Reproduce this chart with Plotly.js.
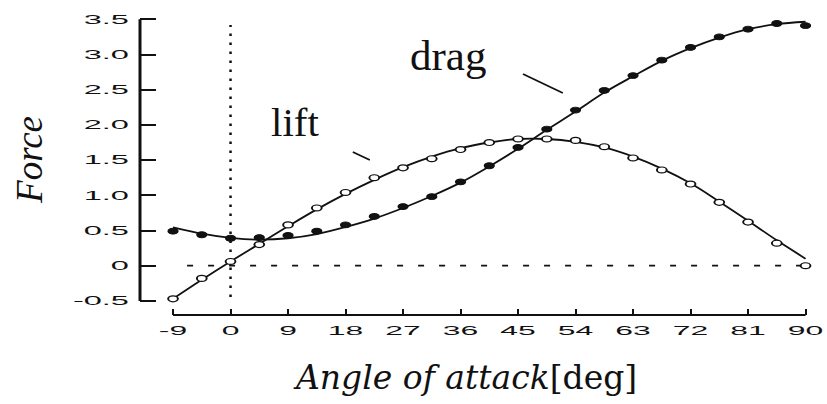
<!DOCTYPE html>
<html>
<head>
<meta charset="utf-8">
<script src="https://cdn.plot.ly/plotly-3.0.1.min.js"></script>
<style>html,body{margin:0;padding:0;background:#fff;}#chart{width:827px;height:404px;}</style>
</head>
<body>
<div id="chart"></div>
<script>
// Measured angles (deg)
const angles = [-9,-4.5,0,4.5,9,13.5,18,22.5,27,31.5,36,40.5,45,49.5,54,58.5,63,67.5,72,76.5,81,85.5,90];
// Measured points
const liftPts = [-0.47,-0.18,0.06,0.30,0.58,0.82,1.04,1.25,1.39,1.52,1.65,1.75,1.80,1.80,1.78,1.69,1.53,1.36,1.16,0.90,0.62,0.32,0.00];
const dragPts = [0.49,0.44,0.39,0.40,0.43,0.49,0.58,0.70,0.84,0.98,1.19,1.42,1.68,1.94,2.21,2.49,2.70,2.92,3.10,3.25,3.36,3.44,3.41];
// Fitted curves at the same angles
const liftLine = [-0.47,-0.20,0.06,0.31,0.56,0.80,1.02,1.22,1.40,1.55,1.67,1.75,1.80,1.80,1.76,1.68,1.55,1.38,1.17,0.91,0.64,0.36,0.10];
const dragLine = [0.545,0.455,0.395,0.37,0.39,0.45,0.55,0.67,0.82,0.99,1.18,1.41,1.66,1.93,2.19,2.46,2.69,2.91,3.09,3.24,3.36,3.43,3.465];
// Ticks
const xTickVals = [-9,0,9,18,27,36,45,54,63,72,81,90];
const xTickText = ["-9","0","9","18","27","36","45","54","63","72","81","90"];
const yTickVals = [-0.5,0,0.5,1,1.5,2,2.5,3,3.5];
const yTickText = ["-0.5","0","0.5","1.0","1.5","2.0","2.5","3.0","3.5"];
const labels = {lift: "lift", drag: "drag", xTitle: "<i>Angle of attack</i>[deg]", yTitle: "<i>Force</i>"};

const traces = [
  {x: angles, y: liftLine, mode: "lines", line: {color: "#111", width: 1.8, shape: "spline", smoothing: 1}, hoverinfo: "skip"},
  {x: angles, y: dragLine, mode: "lines", line: {color: "#111", width: 1.8, shape: "spline", smoothing: 1}, hoverinfo: "skip"},
  {x: angles, y: liftPts, mode: "markers", marker: {symbol: "circle", size: 7, color: "#fff", line: {color: "#111", width: 1.4}}},
  {x: angles, y: dragPts, mode: "markers", marker: {symbol: "circle", size: 7, color: "#111", line: {color: "#111", width: 1}}}
];

const tickFont = {family: "Liberation Sans, Arial, sans-serif", size: 12.5, color: "#111"};
const layout = {
  width: 827, height: 404,
  margin: {l: 140, r: 12, t: 15, b: 89},
  paper_bgcolor: "#fff", plot_bgcolor: "#fff",
  showlegend: false,
  xaxis: {range: [-14.17, 91.48], tickvals: xTickVals, ticktext: xTickText, ticks: "inside", ticklen: 6, tickwidth: 2, tickcolor: "#111",
          showgrid: false, zeroline: false, showline: false, tickfont: tickFont, ticklabelstandoff: 7},
  yaxis: {range: [-0.70, 3.561], tickvals: yTickVals, ticktext: yTickText, ticks: "inside", ticklen: 16, tickwidth: 2, tickcolor: "#111",
          showgrid: false, zeroline: false, showline: false, tickfont: tickFont, ticklabelstandoff: 10},
  shapes: [
    {type: "line", xref: "x", yref: "paper", x0: -9, x1: 90, y0: 0, y1: 0, line: {color: "#111", width: 2}},
    {type: "line", xref: "paper", yref: "y", x0: 0, x1: 0, y0: -0.5, y1: 3.5, line: {color: "#111", width: 3}},
    {type: "line", xref: "x", yref: "y", x0: 0, x1: 0, y0: -0.445, y1: 3.42, layer: "below", line: {color: "#111", width: 2.5, dash: "2.5px,6.5px"}},
    {type: "line", xref: "x", yref: "y", x0: -6.8, x1: 90, y0: 0, y1: 0, layer: "below", line: {color: "#111", width: 1.8, dash: "6px,15px"}},
    {type: "line", xref: "x", yref: "y", x0: 19.14, x1: 21.8, y0: 1.615, y1: 1.501, line: {color: "#111", width: 1.8}},
    {type: "line", xref: "x", yref: "y", x0: 45.77, x1: 52.01, y0: 2.723, y1: 2.453, line: {color: "#111", width: 1.8}}
  ],
  annotations: [
    {text: labels.lift, xref: "x", yref: "y", x: 10.14, y: 2.04, xanchor: "center", yanchor: "middle", showarrow: false, font: {family: "Liberation Serif, serif", size: 41, color: "#111"}},
    {text: labels.drag, xref: "x", yref: "y", x: 34.0, y: 2.987, xanchor: "center", yanchor: "middle", showarrow: false, font: {family: "Liberation Serif, serif", size: 43, color: "#111"}},
    {text: labels.yTitle, xref: "paper", yref: "paper", x: -0.163, y: 0.5167, xanchor: "center", yanchor: "middle", textangle: -90, showarrow: false, font: {family: "Liberation Serif, serif", size: 37, color: "#111"}},
    {text: labels.xTitle, xref: "paper", yref: "paper", x: 0.4815, y: -0.2067, xanchor: "center", yanchor: "middle", showarrow: false, font: {family: "DejaVu Serif, serif", size: 33, color: "#111"}}
  ]
};

function stretch(gd) {
  gd.querySelectorAll(".xtick text").forEach(t => {
    const b = t.getBBox(); const ax = b.x + b.width / 2;
    t.setAttribute("transform", (t.getAttribute("transform") || "") + ` translate(${ax},0) scale(2.55,1) translate(${-ax},0)`);
  });
  gd.querySelectorAll(".ytick text").forEach(t => {
    const b = t.getBBox(); const ax = b.x + b.width;
    t.setAttribute("transform", (t.getAttribute("transform") || "") + ` translate(${ax},0) scale(2.6,1) translate(${-ax},0)`);
  });
  gd.querySelectorAll(".scatterlayer .points path").forEach(p => {
    p.setAttribute("transform", (p.getAttribute("transform") || "") + " scale(1.4,0.85)");
  });
}

Plotly.newPlot("chart", traces, layout, {displayModeBar: false, staticPlot: true}).then(stretch);
</script>
</body>
</html>
